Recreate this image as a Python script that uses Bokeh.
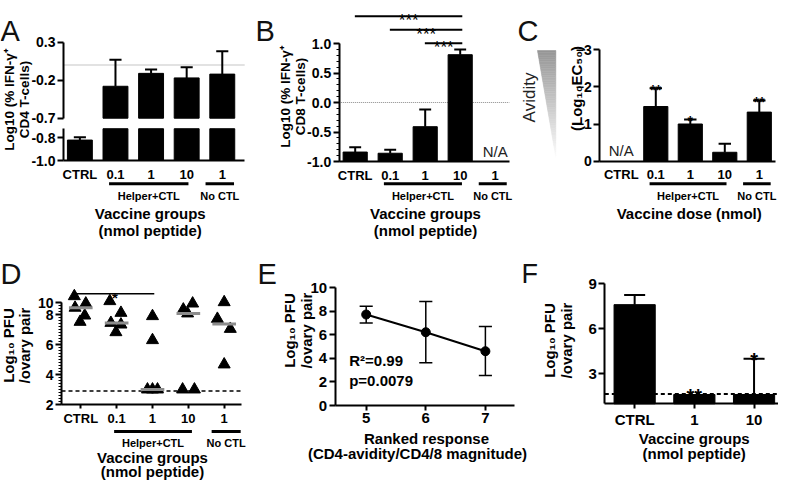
import numpy as np
from bokeh.plotting import figure
from bokeh.models import Range1d, LinearAxis, FixedTicker, PrintfTickFormatter
from bokeh.layouts import row, column
from bokeh.embed import file_html
from bokeh.resources import INLINE
from bokeh.core.properties import value

FONT = "Liberation Sans"

# ---------------- data ----------------
group_ticks = ["CTRL", "0.1", "1", "10", "1"]
group_names = ["Helper+CTL", "No CTL"]

A_mean = [-0.82, -0.28, -0.11, -0.17, -0.12]
A_err_top = [-0.795, 0.07, -0.06, -0.03, 0.18]

B_mean = [-0.84, -0.86, -0.41, 0.81]          # No CTL: N/A
B_err_top = [-0.76, -0.80, -0.12, 0.90]
B_sig_text = ["***", "***", "***"]
B_sig_from = [1, 2, 3]
B_sig_to = 4

C_mean = [-1.47, -1.00, -0.24, -1.32]         # CTRL: N/A
C_err_top = [-1.96, -1.12, -0.47, -1.63]
C_stars = ["**", "*", "", "**"]

D_ctrl = [9.22, 8.45, 8.73, 7.93, 7.51]
D_01 = [8.89, 7.44, 8.11, 7.33, 6.82]
D_1 = [7.89, 6.29, 3.00, 3.00, 3.00]
D_10 = [8.33, 8.07, 8.73, 3.00, 3.00]
D_noctl = [8.82, 7.71, 7.04, 4.67]
D_ctrl_dx = [-0.18, -0.16, 0.14, 0.11, -0.02]
D_01_dx = [-0.19, -0.16, 0.12, 0.12, -0.02]
D_1_dx = [0.0, 0.0, -0.14, 0.0, 0.14]
D_10_dx = [-0.14, -0.02, 0.12, -0.16, 0.17]
D_noctl_dx = [0.0, -0.19, 0.17, 0.0]
D_limit = 2.9
D_yticks = [2, 4, 6, 8, 8.8]
D_ytick_labels = ["2", "4", "6", "8", "10"]

E_rank = [5, 6, 7]
E_mean = [7.71, 6.21, 4.60]
E_low = [7.00, 3.62, 2.54]
E_high = [8.42, 8.81, 6.69]
E_stats = ["R\u00b2=0.99", "p=0.0079"]

F_ticks = ["CTRL", "1", "10"]
F_mean = [7.61, 1.62, 1.62]
F_err_top = [8.26, 1.62, 4.00]
F_stars = ["", "**", "*"]
F_limit = 1.65


# ---------------- geometry helpers ----------------
class Geo:
    """Linear map between page pixels and data units for one canvas."""
    def __init__(self, left, top, w, h, px0, x0, sx, py0, y0, sy):
        self.left, self.top, self.w, self.h = left, top, w, h
        self.px0, self.x0, self.sx = px0, x0, sx
        self.py0, self.y0, self.sy = py0, y0, sy

    def X(self, px):
        return self.x0 + (px - self.px0) / self.sx

    def Y(self, py):
        return self.y0 - (py - self.py0) / self.sy

    def xr(self):
        return Range1d(self.X(self.left), self.X(self.left + self.w))

    def yr(self):
        return Range1d(self.Y(self.top + self.h), self.Y(self.top))


def make_fig(g):
    p = figure(width=g.w, height=g.h, x_range=g.xr(), y_range=g.yr(),
               output_backend="svg", toolbar_location=None, min_border=0,
               x_axis_type=None, y_axis_type=None, title=None)
    p.outline_line_color = None
    p.background_fill_color = "white"
    p.border_fill_color = "white"
    return p


def style_axis(ax, size="14px", tick_out=6, standoff=2):
    ax.axis_line_width = 2
    ax.axis_line_color = "black"
    ax.major_tick_line_width = 2
    ax.major_tick_line_color = "black"
    ax.major_tick_in = 0
    ax.major_tick_out = tick_out
    ax.minor_tick_line_color = None
    ax.major_label_text_font = FONT
    ax.major_label_text_font_style = "bold"
    ax.major_label_text_font_size = size
    ax.major_label_text_color = "black"
    ax.major_label_standoff = standoff


def y_axis(p, at, bounds, ticks, size="14px", rname="default", overrides=None, minor=None, fmt=None):
    ax = LinearAxis(fixed_location=at, bounds=bounds, y_range_name=rname,
                    ticker=FixedTicker(ticks=ticks, minor_ticks=minor or []))
    style_axis(ax, size)
    if fmt:
        ax.formatter = PrintfTickFormatter(format=fmt)
    if overrides:
        ax.major_label_overrides = overrides
    if minor:
        ax.minor_tick_line_color = "black"
        ax.minor_tick_line_width = 1
        ax.minor_tick_out = 3
        ax.minor_tick_in = 0
    p.add_layout(ax, "left")
    return ax


def x_axis(p, at, bounds, ticks, labels=None, size="13px", tick_out=0, standoff=6):
    ax = LinearAxis(fixed_location=at, bounds=bounds, ticker=FixedTicker(ticks=ticks))
    style_axis(ax, size, tick_out, standoff)
    if labels:
        ax.major_label_overrides = {t: lab for t, lab in zip(ticks, labels)}
    p.add_layout(ax, "below")
    return ax


def txt(p, g, px, py, s, size="15px", bold=True, align="center", baseline="middle",
        angle=0.0, color="black", lh=1.0):
    p.text(x=[g.X(px)], y=[g.Y(py)], text=[s], angle=angle, text_font=value(FONT),
           text_font_size=size, text_font_style="bold" if bold else "normal",
           text_align=align, text_baseline=baseline, text_color=color, text_line_height=lh)


def err_up(p, xs, base, tops, half, lw=2, rname="default"):
    xs = np.asarray(xs, float)
    p.segment(x0=xs, y0=base, x1=xs, y1=tops, line_width=lw, line_color="black", y_range_name=rname)
    p.segment(x0=xs - half, y0=tops, x1=xs + half, y1=tops, line_width=lw, line_color="black",
              y_range_name=rname)


def groups_below(p, g, py_line, py_text, spans):
    for (x0, x1), name in zip(spans, group_names):
        p.segment(x0=[x0], x1=[x1], y0=[g.Y(py_line)], y1=[g.Y(py_line)],
                  line_width=3, line_color="black")
        txt(p, g, g.px0 + ((x0 + x1) / 2 - g.x0) * g.sx, py_text, name, size="11px")


STD_SPANS = [(2 - 0.18, 4 + 0.05), (5 - 0.47, 5 + 0.33)]

# ---------------- Panel A (broken axis) ----------------
gA = Geo(8, 0, 254, 240, 71, 0.54, 35.6, 160, -1.0, 113.5)      # lower segment (default)
gAu = Geo(8, 0, 254, 240, 71, 0.54, 35.6, 41.7, 0.3, 76.0)       # upper segment
LOWER_TOP, UPPER_BOTTOM = -0.72, -0.7
pA = make_fig(gA)
pA.extra_y_ranges = {"upper": gAu.yr()}
xA = np.arange(1, len(group_ticks) + 1, dtype=float)
A_xend = 5.62
pA.segment(x0=[0.54], x1=[A_xend], y0=[0], y1=[0], y_range_name="upper",
           line_color="#8a8a8a", line_width=1, line_dash="1 1")
pA.vbar(x=xA, top=[min(v, LOWER_TOP) for v in A_mean], bottom=-1.0, width=0.7, color="black")
up = [i for i, v in enumerate(A_mean) if v > UPPER_BOTTOM]
lo = [i for i, v in enumerate(A_mean) if v <= UPPER_BOTTOM]
pA.vbar(x=xA[up], top=[A_mean[i] for i in up], bottom=UPPER_BOTTOM, width=0.7, color="black",
        y_range_name="upper")
err_up(pA, xA[up], [A_mean[i] for i in up], [A_err_top[i] for i in up], 0.17, rname="upper")
err_up(pA, xA[lo], [A_mean[i] for i in lo], [A_err_top[i] for i in lo], 0.17)
y_axis(pA, 0.54, (UPPER_BOTTOM, 0.3), [-0.7, -0.2, 0.3], rname="upper", fmt="%.1f")
y_axis(pA, 0.54, (-1.0, LOWER_TOP), [-1.0, -0.8], fmt="%.1f")
x_axis(pA, -1.0, (0.54, A_xend), list(range(1, 6)), group_ticks)
groups_below(pA, gA, 183.3, 195, STD_SPANS)
txt(pA, gA, 157.7, 213.3, "Vaccine groups")
txt(pA, gA, 157.7, 230, "(nmol peptide)")
txt(pA, gA, 24.5, 99, "Log10 (% IFN-\u03b3\u207a\nCD4 T-cells)", size="13.5px", angle=np.pi / 2)
txt(pA, gA, 8, 30, "A", size="29px", bold=False, align="left", baseline="alphabetic", color="#111111")

# ---------------- Panel B ----------------
gB = Geo(262, 0, 260, 240, 346.7, 0.543, 35.0, 161, -1.0, 59.0)
pB = make_fig(gB)
xB = np.arange(1, len(B_mean) + 1, dtype=float)
B_xend = gB.X(517)
pB.segment(x0=[0.543], x1=[B_xend], y0=[0], y1=[0], line_color="#8a8a8a", line_width=1, line_dash="1 1")
pB.vbar(x=xB, top=B_mean, bottom=-1.0, width=0.69, color="black")
err_up(pB, xB, B_mean, B_err_top, 0.17)
for f, line_py, t in zip(B_sig_from, [15.7, 29.3, 42.7], B_sig_text):
    yv = gB.Y(line_py)
    pB.segment(x0=[f - 0.01], x1=[B_sig_to + 0.06], y0=[yv], y1=[yv], line_width=2, line_color="black")
    pB.text(x=[(f + B_sig_to) / 2 + 0.03], y=[yv], text=[t], text_font=value(FONT),
            text_font_size="17px", text_align="center", text_baseline="alphabetic",
            y_offset=4.5, text_color="black")
pB.text(x=[5], y=[-1.0], text=["N/A"], text_font=value(FONT), text_font_size="15px",
        text_align="center", text_baseline="middle", y_offset=-10, text_color="#222222")
y_axis(pB, 0.543, (-1.0, 1.0), [-1.0, -0.5, 0.0, 0.5, 1.0], fmt="%.1f",
       minor=[round(v, 2) for v in np.arange(-1.0, 1.001, 0.1)])
x_axis(pB, -1.0, (0.543, B_xend), list(range(1, 6)), group_ticks)
groups_below(pB, gB, 183.3, 195, STD_SPANS)
txt(pB, gB, 433, 213.3, "Vaccine groups")
txt(pB, gB, 433, 230, "(nmol peptide)")
txt(pB, gB, 300, 96, "Log10 (% IFN-\u03b3\u207a\nCD8 T-cells)", size="13.5px", angle=np.pi / 2)
txt(pB, gB, 263, 30, "B", size="29px", bold=False, align="left", baseline="alphabetic", color="#111111")

# ---------------- Avidity wedge (and panel letter C) ----------------
gS = Geo(522, 0, 43, 240, 522, 0.0, 1.0, 240, 0.0, 1.0)
pS = make_fig(gS)
N = 60
ytop, yapex, xl, xr_ = gS.Y(50), gS.Y(156.7), gS.X(545), gS.X(563.3)
xs_list, ys_list, cols = [], [], []
for i in range(N):
    t0, t1 = i / N, (i + 1) / N
    y0 = ytop - t0 * (ytop - yapex)
    y1 = ytop - t1 * (ytop - yapex)
    x0 = xl + t0 * (xr_ - xl)
    x1 = xl + t1 * (xr_ - xl)
    xs_list.append([x0, xr_, xr_, x1])
    ys_list.append([y0, y0, y1, y1])
    gv = int(150 + (252 - 150) * (t0 + t1) / 2)
    cols.append("#%02x%02x%02x" % (gv, gv, gv))
pS.patches(xs=xs_list, ys=ys_list, fill_color=cols, line_color=cols, line_width=0.6)
txt(pS, gS, 537, 97, "Avidity", size="17px", bold=False, angle=np.pi / 2, color="#222222")
txt(pS, gS, 525, 30, "C", size="29px", bold=False, align="left", baseline="alphabetic", color="#111111")

# ---------------- Panel C ----------------
gC = Geo(565, 0, 221, 240, 607.3, 0.377, 34.5, 160.7, 0.0, -37.2)
pC = make_fig(gC)
xC = np.arange(2, 2 + len(C_mean), dtype=float)
pC.vbar(x=xC, top=C_mean, bottom=0, width=0.7, color="black")
err_up(pC, xC, C_mean, C_err_top, 0.18)
pC.text(x=xC, y=C_err_top, text=C_stars, text_font=value(FONT), text_font_size="14px",
        text_font_style="bold", text_align="center", text_baseline="alphabetic", y_offset=1.5,
        text_color="black")
pC.text(x=[1], y=[0], text=["N/A"], text_font=value(FONT), text_font_size="15px",
        text_align="center", text_baseline="middle", y_offset=-10.5, text_color="#222222")
y_axis(pC, 0.377, (-3, 0), [0, -1, -2, -3])
x_axis(pC, 0.0, (0.377, gC.X(783)), list(range(1, 6)), group_ticks)
groups_below(pC, gC, 183.3, 195, STD_SPANS)
txt(pC, gC, 696.7, 213.3, "Vaccine dose (nmol)")
txt(pC, gC, 584, 88, "(Log\u2081\u2080EC\u2085\u2080)", size="15px", angle=np.pi / 2)

# ---------------- Panel D ----------------
gD = Geo(8, 240, 254, 240, 69, 0.462, 35.85, 404, 2.0, 15.0)
pD = make_fig(gD)
D_xend = gD.X(249)
pD.segment(x0=[0.462], x1=[D_xend], y0=[D_limit], y1=[D_limit], line_color="black",
           line_width=1.5, line_dash="4 3")
D_groups = [D_ctrl, D_01, D_1, D_10, D_noctl]
D_dx = [D_ctrl_dx, D_01_dx, D_1_dx, D_10_dx, D_noctl_dx]
dxs, dys, med = [], [], []
for gi, (vals, dx) in enumerate(zip(D_groups, D_dx)):
    for v, d in zip(vals, dx):
        dxs.append(gi + 1 + d)
        dys.append(v)
    med.append(float(np.median(vals)))
pD.scatter(x=dxs, y=dys, marker="triangle", size=12, fill_color="black", line_color="black")
gx = np.arange(1, 6, dtype=float)
pD.segment(x0=gx - 0.33, x1=gx + 0.33, y0=med, y1=med, line_width=3, line_color="#8c8c8c")
sig_y = gD.Y(293.3)
pD.segment(x0=[0.82], x1=[3.05], y0=[sig_y], y1=[sig_y], line_width=1.5, line_color="black")
pD.text(x=[1.95], y=[sig_y], text=["*"], text_font=value(FONT), text_font_size="15px",
        text_font_style="bold", text_align="center", text_baseline="alphabetic", y_offset=3.3,
        text_color="black")
y_axis(pD, 0.462, (2, 8.8), D_yticks, overrides={t: l for t, l in zip(D_yticks, D_ytick_labels)},
       minor=[round(v, 2) for v in np.arange(2.0, 8.81, 0.2)])
x_axis(pD, 2.0, (0.462, D_xend), list(range(1, 6)), group_ticks, tick_out=4, standoff=2)
groups_below(pD, gD, 431, 442.3, [(2 - 0.07, 4 + 0.1), (5 - 0.35, 5 + 0.46)])
txt(pD, gD, 160, 457, "Vaccine groups")
txt(pD, gD, 160, 471, "(nmol peptide)")
txt(pD, gD, 24, 345, "Log\u2081\u2080 PFU\n/ovary pair", size="15px", angle=np.pi / 2, lh=0.95)
txt(pD, gD, 8, 273, "D", size="29px", bold=False, align="left", baseline="alphabetic", color="#111111")

# ---------------- Panel E ----------------
gE = Geo(262, 240, 285, 240, 342.7, 4.48, 59.6, 405, 0.0, 11.8)
pE = make_fig(gE)
er = np.asarray(E_rank, float)
pE.line(x=er, y=E_mean, line_width=2, line_color="black")
pE.segment(x0=er, x1=er, y0=E_low, y1=E_high, line_width=1.5, line_color="black")
pE.segment(x0=er - 0.11, x1=er + 0.11, y0=E_low, y1=E_low, line_width=1.5, line_color="black")
pE.segment(x0=er - 0.11, x1=er + 0.11, y0=E_high, y1=E_high, line_width=1.5, line_color="black")
pE.scatter(x=er, y=E_mean, marker="circle", size=9, fill_color="black", line_color="black")
txt(pE, gE, 356.7, 360, E_stats[0], align="left")
txt(pE, gE, 356.7, 380, E_stats[1], align="left")
y_axis(pE, 4.48, (0, 10), [0, 2, 4, 6, 8, 10], size="15px")
x_axis(pE, 0.0, (4.48, gE.X(522)), E_rank, size="15px", tick_out=5, standoff=2)
txt(pE, gE, 434, 438.3, "Ranked response")
txt(pE, gE, 425, 453.3, "(CD4-avidity/CD4/8 magnitude)")
txt(pE, gE, 305, 330, "Log\u2081\u2080 PFU\n/ovary pair", size="15px", angle=np.pi / 2)
txt(pE, gE, 265, 273, "E", size="29px", bold=False, align="left", baseline="alphabetic", color="#111111")
txt(pE, gE, 529, 273, "F", size="27px", bold=False, align="left", baseline="alphabetic", color="#111111")

# ---------------- Panel F ----------------
gF = Geo(547, 240, 239, 240, 612.3, 0.5, 59.7, 403.3, 1.0, 15.0)
pF = make_fig(gF)
xF = np.arange(1, len(F_ticks) + 1, dtype=float)
F_xend = gF.X(786)
pF.segment(x0=[0.5], x1=[F_xend], y0=[F_limit], y1=[F_limit], line_color="black",
           line_width=2, line_dash="4 3")
pF.vbar(x=xF, top=F_mean, bottom=1, width=0.69, color="black")
hasF = [i for i in range(len(F_mean)) if F_err_top[i] > F_mean[i]]
err_up(pF, xF[hasF], [F_mean[i] for i in hasF], [F_err_top[i] for i in hasF], 0.176)
pF.text(x=xF, y=F_err_top, text=F_stars, text_font=value(FONT), text_font_size="20px",
        text_font_style="bold", text_align="center", text_baseline="alphabetic", y_offset=1.5,
        text_color="black")
y_axis(pF, 0.5, (1, 9), [3, 6, 9], size="15px")
x_axis(pF, 1.0, (0.5, F_xend), list(range(1, 4)), F_ticks, size="15px", tick_out=5, standoff=2)
txt(pF, gF, 701.7, 438.3, "Vaccine groups")
txt(pF, gF, 701.7, 453.3, "(nmol peptide)")
txt(pF, gF, 565.5, 340, "Log\u2081\u2080 PFU\n/ovary pair", size="15px", angle=np.pi / 2)

layout = column(row(pA, pB, pS, pC), row(pD, pE, pF))
open("out.html", "w").write(file_html(layout, INLINE))
